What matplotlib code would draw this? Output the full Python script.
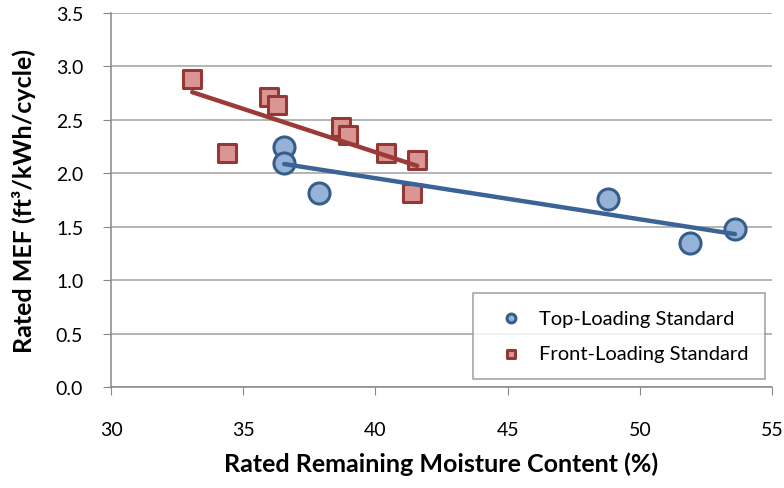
import numpy as np
import matplotlib
matplotlib.use('Agg')
import matplotlib.pyplot as plt

plt.rcParams['font.family'] = ['Lato', 'DejaVu Sans']

# top-loading standard
top_rmc = [36.55, 36.55, 37.87, 48.81, 51.90, 53.60]
top_mef = [2.25, 2.10, 1.82, 1.76, 1.35, 1.48]

# front-loading standard
front_rmc = [33.07, 34.38, 35.98, 36.27, 38.69, 38.97, 40.39, 41.58, 41.38]
front_mef = [2.88, 2.19, 2.71, 2.64, 2.43, 2.36, 2.19, 2.13, 1.82]

x_ticks = [30, 35, 40, 45, 50, 55]
y_ticks = [0.0, 0.5, 1.0, 1.5, 2.0, 2.5, 3.0, 3.5]

blue_fill, blue_edge, blue_line = '#95B3D7', '#385D8A', '#3A6496'
red_fill, red_edge, red_line = '#D99694', '#953735', '#9B3A36'

fig = plt.figure(figsize=(7.84, 4.89), dpi=100)
ax = fig.add_axes([0.1416, 0.2059, 0.8431, 0.7655])

for y in y_ticks:
    ax.axhline(y, color='#A0A0A0', lw=1.1, zorder=0)

# linear trend lines
for xs, ys, c in [(top_rmc, top_mef, blue_line), (front_rmc, front_mef, red_line)]:
    p = np.polyfit(xs, ys, 1)
    xx = np.array([min(xs), max(xs)])
    ax.plot(xx, np.polyval(p, xx), color=c, lw=3.2, solid_capstyle='round', zorder=3)

ax.scatter(front_rmc, front_mef, marker='s', s=150, facecolor=red_fill,
           edgecolor=red_edge, linewidths=2.2, zorder=2, label='Front-Loading Standard')
ax.scatter(top_rmc, top_mef, marker='o', s=230, facecolor=blue_fill,
           edgecolor=blue_edge, linewidths=2.2, zorder=2, label='Top-Loading Standard')

ax.set_xlim(30, 55)
ax.set_ylim(0, 3.5)
ax.set_xticks(x_ticks)
ax.set_yticks(y_ticks)
ax.set_yticklabels(['%.1f' % v for v in y_ticks])

for s in ['top', 'right']:
    ax.spines[s].set_visible(False)
for s in ['left', 'bottom']:
    ax.spines[s].set_color('#888888')
    ax.spines[s].set_linewidth(1.1)
ax.tick_params(axis='both', direction='out', length=6, color='#888888',
               labelsize=14, labelcolor='black')
ax.tick_params(axis='x', pad=18)
ax.tick_params(axis='y', pad=14)

ax.set_xlabel('Rated Remaining Moisture Content (%)', fontsize=18, fontweight='bold', labelpad=10)
ax.set_ylabel('Rated MEF (ft³/kWh/cycle)', fontsize=18, fontweight='bold', labelpad=14)

handles, labels = ax.get_legend_handles_labels()
leg = ax.legend(handles[::-1], labels[::-1], loc='lower right', bbox_to_anchor=(0.99, 0.022),
                borderaxespad=0, fontsize=14.5, frameon=True, fancybox=False, markerscale=0.42,
                handletextpad=0.4, borderpad=0.85, labelspacing=0.9, scatterpoints=1)
leg.get_frame().set_edgecolor('#888888')
leg.get_frame().set_linewidth(1.1)

fig.savefig('out.png', dpi=100)
